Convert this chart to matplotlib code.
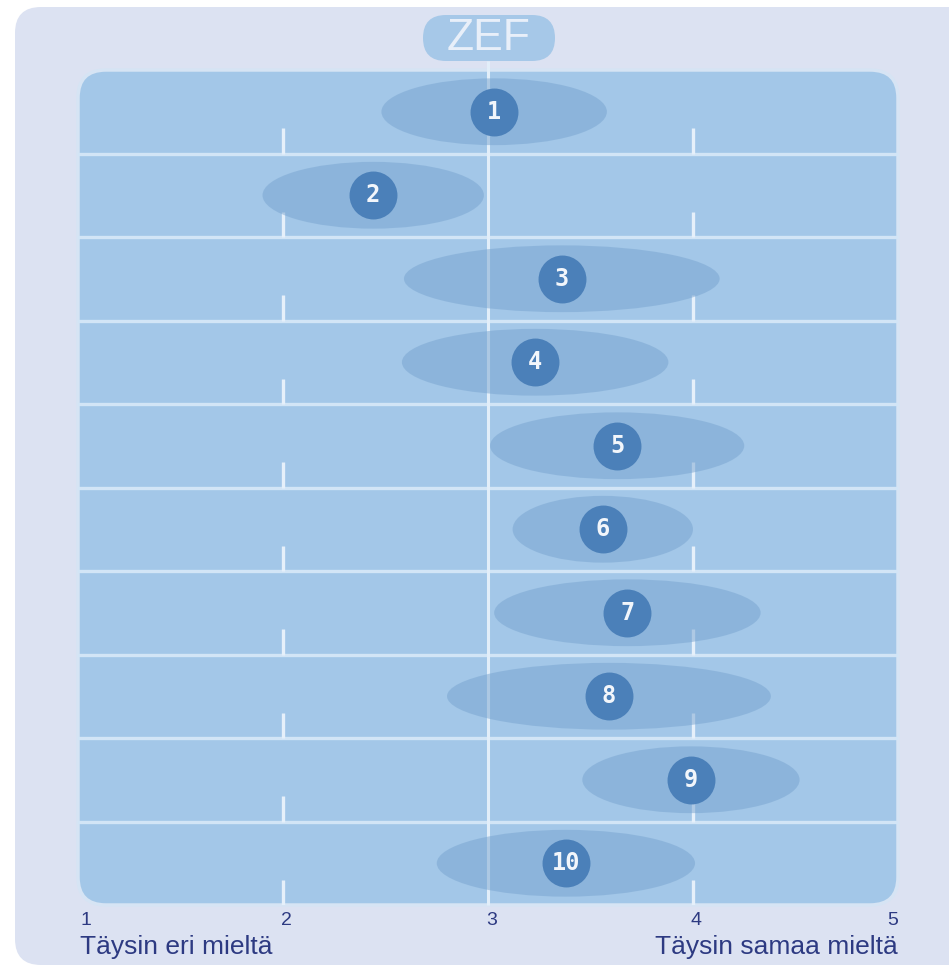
import matplotlib
matplotlib.use("Agg")
import matplotlib.pyplot as plt
from matplotlib.patches import Ellipse, FancyBboxPatch

# statements 1..10: mean answer and spread (half width of the ellipse)
labels = ["1", "2", "3", "4", "5", "6", "7", "8", "9", "10"]
means = [3.03, 2.44, 3.36, 3.23, 3.63, 3.56, 3.68, 3.59, 3.99, 3.38]
spreads = [0.55, 0.54, 0.77, 0.65, 0.62, 0.44, 0.65, 0.79, 0.53, 0.63]
scale_ticks = [1, 2, 3, 4, 5]
left_label = "Täysin eri mieltä"
right_label = "Täysin samaa mieltä"
title = "ZEF"

W, H = 949, 966
fig = plt.figure(figsize=(W / 100, H / 100), dpi=100, facecolor="white")

# background layer in pixel coordinates
bg = fig.add_axes([0, 0, 1, 1])
bg.set_xlim(0, W)
bg.set_ylim(H, 0)
bg.axis("off")

bg.add_patch(FancyBboxPatch((15, 7), W + 20, H - 8,
                            boxstyle="round,pad=0,rounding_size=26",
                            fc="#dce2f2", ec="none"))
bg.add_patch(FancyBboxPatch((78, 70), 820, 835,
                            boxstyle="round,pad=0,rounding_size=28",
                            fc="#a3c7e8", ec="#d6e4f4", lw=2.5))
bg.add_patch(FancyBboxPatch((423, 15), 132, 46,
                            boxstyle="round,pad=0,rounding_size=23",
                            fc="#a6c8e8", ec="none"))
bg.text(489, 39, title, ha="center", va="center", fontsize=32,
        color="#e8eff9", family="Liberation Sans")

# data axes over the inner panel
ax = fig.add_axes([78 / W, 61 / H, 820 / W, 835 / H])
ax.set_xlim(1, 5)
ax.set_ylim(len(labels) + 0.5, 0.5)
ax.axis("off")
ax.patch.set_alpha(0)

n = len(labels)
for i in range(1, n):
    ax.axhline(i + 0.5, color="#d2e5f6", lw=2.4, zorder=1)

ax.vlines(3, n + 0.5, 0.39, color="#e2eef9", lw=2.2, zorder=1, clip_on=False)
for i in range(1, n + 1):
    ax.vlines([2, 4], i + 0.5 - 0.3, i + 0.5, color="#e6f0fa", lw=2.4, zorder=1)

rows = list(range(1, n + 1))
for r, m, s in zip(rows, means, spreads):
    ax.add_patch(Ellipse((m, r), 2 * s, 0.8, fc="#77a3cf", ec="none",
                         alpha=0.5, zorder=2))

ax.scatter(means, rows, s=1190, color="#4b80b9", zorder=3, linewidths=0)
for r, m, lab in zip(rows, means, labels):
    ax.text(m, r, lab, ha="center", va="center", fontsize=17,
            fontweight="bold", color="#f2f6fb", family="DejaVu Sans Mono",
            zorder=4)

# scale labels under the panel
navy = "#2d3a82"
for t in scale_ticks:
    if t == scale_ticks[0]:
        ha, dx = "left", 0.01
    elif t == scale_ticks[-1]:
        ha, dx = "right", 0.0
    else:
        ha, dx = "center", 0.017
    ax.text(t + dx, n + 0.68, str(t), ha=ha, va="center", fontsize=14,
            color=navy, family="Liberation Sans", clip_on=False)
ax.text(1.01, n + 1.0, left_label, ha="left", va="center", fontsize=19,
        color=navy, family="Liberation Sans", clip_on=False)
ax.text(5.0, n + 1.0, right_label, ha="right", va="center", fontsize=19,
        color=navy, family="Liberation Sans", clip_on=False)

fig.savefig("out.png", dpi=100, facecolor="white")
